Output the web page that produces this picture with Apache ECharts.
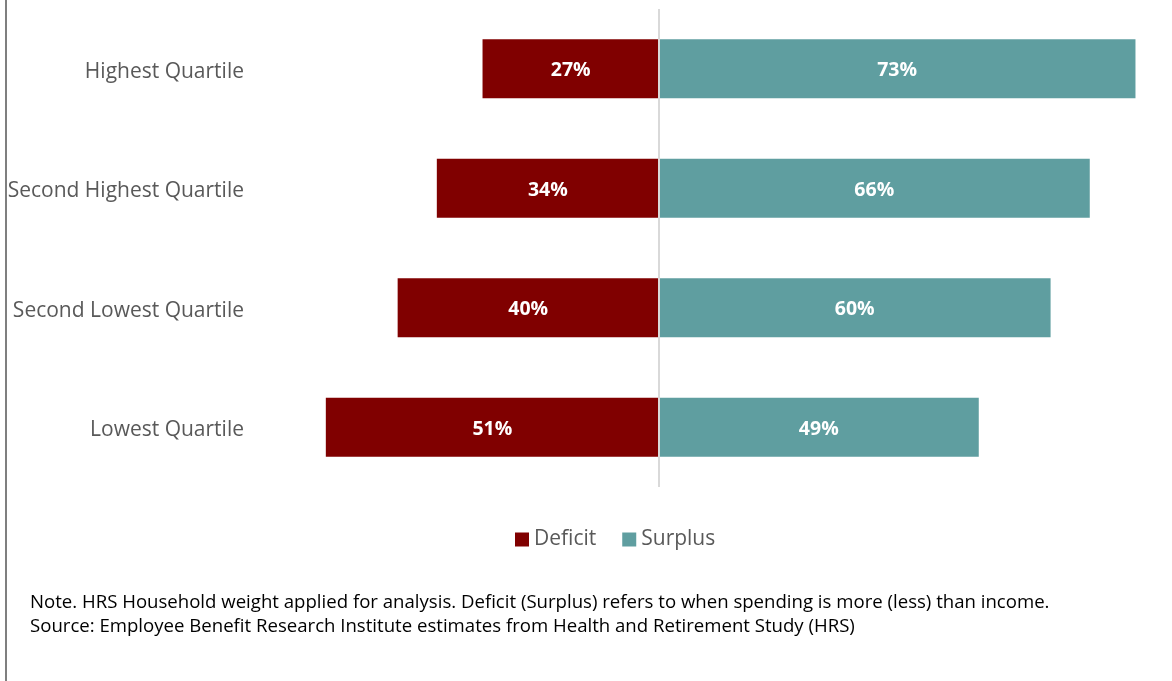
<!DOCTYPE html>
<html>
<head>
<meta charset="utf-8">
<script src="https://cdn.jsdelivr.net/npm/echarts@6/dist/echarts.min.js"></script>
<style>
html,body{margin:0;padding:0;background:#fff;}
#chart{width:1172px;height:681px;}
</style>
</head>
<body>
<div id="chart"></div>
<script>
const categories = ["Highest Quartile", "Second Highest Quartile", "Second Lowest Quartile", "Lowest Quartile"];
const deficit = [27, 34, 40, 51];
const surplus = [73, 66, 60, 49];
const seriesNames = ["Deficit", "Surplus"];
const noteLines = [
  "Note. HRS Household weight applied for analysis. Deficit (Surplus) refers to when spending is more (less) than income.",
  "Source: Employee Benefit Research Institute estimates from Health and Retirement Study (HRS)"
];

const FONT = "'Open Sans', sans-serif";
const chart = echarts.init(document.getElementById('chart'));
const option = {
  animation: false,
  backgroundColor: '#fff',
  grid: { left: 254, width: 888, top: 9, height: 478, containLabel: false },
  xAxis: {
    type: 'value', min: -62, max: 74,
    axisLine: { show: false }, axisTick: { show: false },
    axisLabel: { show: false }, splitLine: { show: false }
  },
  yAxis: {
    type: 'category', data: categories, inverse: true,
    axisLine: { show: false }, axisTick: { show: false },
    axisLabel: { color: '#595959', fontSize: 21, fontFamily: FONT, margin: 10,
      verticalAlign: 'top', lineHeight: 24, padding: [-9, 0, 0, 0] }
  },
  legend: {
    data: seriesNames, top: 524, left: 510,
    itemWidth: 14, itemHeight: 14, itemGap: 26,
    icon: 'rect',
    textStyle: { color: '#595959', fontSize: 21, fontFamily: FONT }
  },
  series: [
    {
      name: seriesNames[0], type: 'bar', barWidth: 59, barGap: '-100%',
      data: deficit.map(v => -v),
      itemStyle: { color: '#800000' },
      label: { show: true, position: 'inside', color: '#fff', fontWeight: 'bold', fontSize: 19.5, fontFamily: FONT,
        offset: [0, 2],
        formatter: p => Math.abs(p.value) + '%' },
      markLine: {
        silent: true, symbol: 'none', label: { show: false },
        lineStyle: { color: '#d9d9d9', width: 2, type: 'solid' },
        data: [{ xAxis: 0 }]
      }
    },
    {
      name: seriesNames[1], type: 'bar', barWidth: 59,
      data: surplus,
      itemStyle: { color: '#5f9ea0' },
      label: { show: true, position: 'inside', color: '#fff', fontWeight: 'bold', fontSize: 19.5, fontFamily: FONT,
        offset: [0, 2],
        formatter: p => p.value + '%' }
    }
  ],
  graphic: [
    { type: 'rect', left: 5, top: 0, shape: { width: 2, height: 681 }, style: { fill: '#7f7f7f' }, silent: true },
    { type: 'text', left: 30, top: 593, style: { text: noteLines[0], fill: '#000', font: "18.6px " + FONT } },
    { type: 'text', left: 30, top: 617, style: { text: noteLines[1], fill: '#000', font: "18.6px " + FONT } }
  ]
};
chart.setOption(option);
</script>
</body>
</html>
